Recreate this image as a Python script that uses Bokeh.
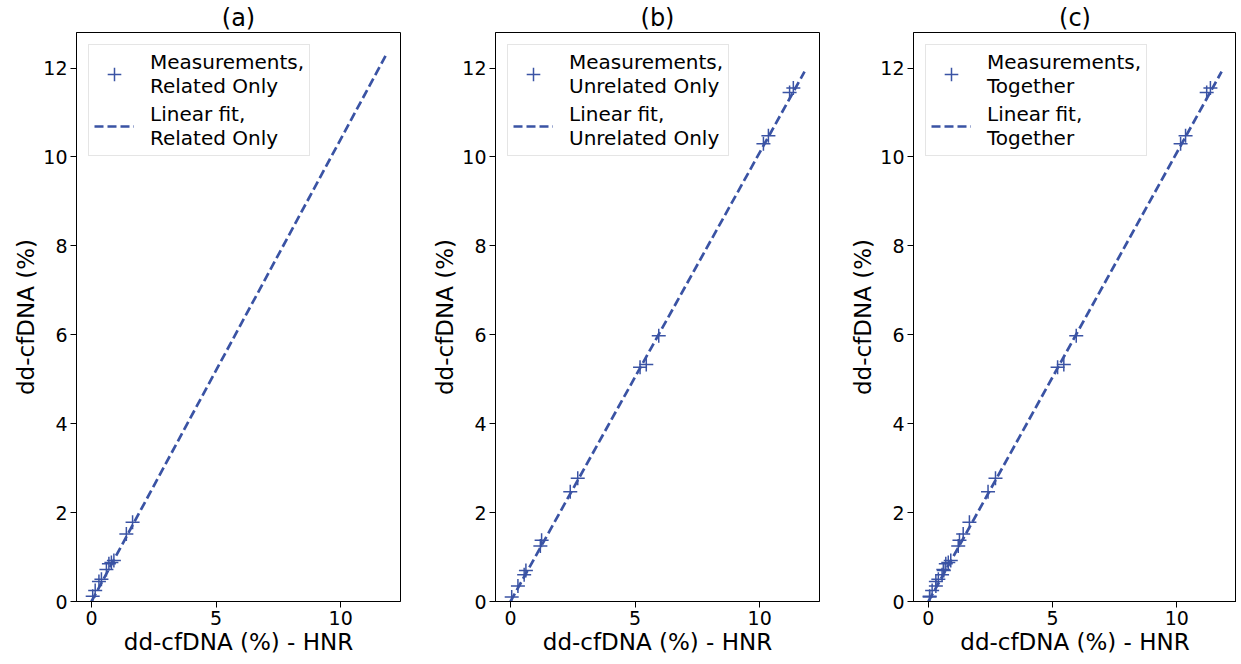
from bokeh.plotting import figure
from bokeh.layouts import row
from bokeh.models import Range1d
from bokeh.embed import file_html
from bokeh.resources import INLINE
import numpy as np

# ---- data ----
rel_x = [0.05, 0.15, 0.3, 0.4, 0.6, 0.7, 0.8, 0.9, 1.4, 1.65]
rel_y = [0.12, 0.25, 0.45, 0.5, 0.72, 0.85, 0.88, 0.92, 1.52, 1.78]

unrel_x = [0.05, 0.3, 0.55, 0.62, 1.2, 1.25, 2.4, 2.7, 5.2, 5.45, 5.95, 10.15, 10.35, 11.2, 11.35]
unrel_y = [0.1, 0.35, 0.6, 0.7, 1.25, 1.38, 2.47, 2.77, 5.27, 5.33, 5.98, 10.3, 10.48, 11.45, 11.55]

tog_x = rel_x + unrel_x
tog_y = rel_y + unrel_y

# linear fit parameters (slope, intercept)
fit_rel = (1.04, 0.0)
fit_unrel = (1.01, 0.0)
fit_tog = (1.01, 0.0)
fit_x_range = [0.0, 11.8]

titles = ["(a)", "(b)", "(c)"]
names = ["Related Only", "Unrelated Only", "Together"]
x_ticks = [0, 5, 10]
y_ticks = [0, 2, 4, 6, 8, 10, 12]

COLOR = "#3A53A4"
FONT = "DejaVu Sans"


def panel(title, name, xs, ys, fit, left, right, fw):
    p = figure(frame_width=fw, frame_height=569,
               min_border_left=left, min_border_right=right,
               min_border_top=24, min_border_bottom=50,
               x_range=Range1d(-0.6, 12.4), y_range=Range1d(0, 12.8),
               output_backend="svg", toolbar_location=None)
    p.title.text = title
    p.title.align = "center"
    p.title.text_font = FONT
    p.title.text_font_size = "24px"
    p.title.text_font_style = "normal"
    p.title.text_color = "black"
    p.title.standoff = 2

    p.scatter(xs, ys, marker="cross", size=14, line_width=1.5, color=COLOR,
              legend_label="Measurements,\n" + name)
    fx = np.array(fit_x_range)
    fy = fit[0] * fx + fit[1]
    p.line(fx, fy, line_dash="9 4", line_width=2.7, color=COLOR,
           legend_label="Linear fit,\n" + name)

    p.xgrid.visible = False
    p.ygrid.visible = False
    p.outline_line_color = "black"
    p.outline_line_width = 1
    p.xaxis.ticker = x_ticks
    p.yaxis.ticker = y_ticks
    for ax in (p.xaxis, p.yaxis):
        ax.minor_tick_line_color = None
        ax.major_tick_in = 0
        ax.major_tick_out = 6
        ax.major_label_text_font = FONT
        ax.major_label_text_font_size = "19px"
        ax.major_label_text_color = "black"
        ax.major_label_standoff = 3
        ax.axis_label_text_font = FONT
        ax.axis_label_text_font_size = "23px"
        ax.axis_label_text_font_style = "normal"
        ax.axis_label_text_color = "black"
        ax.axis_label_standoff = 1
        ax.axis_line_color = "black"
        ax.major_tick_line_color = "black"
    p.xaxis.axis_label = "dd-cfDNA (%) - HNR"
    p.yaxis.axis_label = "dd-cfDNA (%)"

    lg = p.legend[0]
    lg.location = "top_left"
    lg.margin = 12
    lg.padding = 5
    lg.spacing = 4
    lg.glyph_width = 40
    lg.glyph_height = 34
    lg.label_standoff = 16
    lg.label_text_font = FONT
    lg.label_text_font_size = "20px"
    lg.label_text_color = "black"
    lg.label_text_line_height = 1.0
    lg.border_line_color = "#cccccc"
    lg.background_fill_alpha = 0.8
    return p


pa = panel(titles[0], names[0], rel_x, rel_y, fit_rel, 76, 8, 324)
pb = panel(titles[1], names[1], unrel_x, unrel_y, fit_unrel, 87, 8, 324)
pc = panel(titles[2], names[2], tog_x, tog_y, fit_tog, 86, 0, 323)

layout = row(pa, pb, pc)
open("out.html", "w").write(file_html(layout, INLINE))
